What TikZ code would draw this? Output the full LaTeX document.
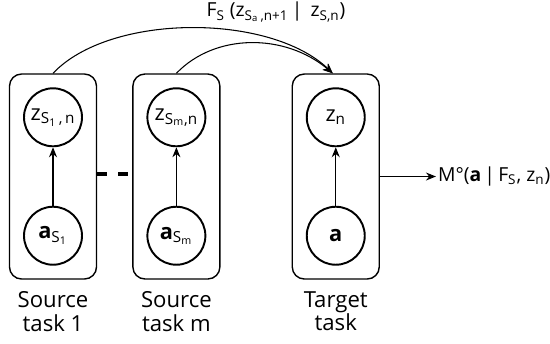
\documentclass[tikz,border=0pt]{standalone}
\usepackage{fontspec}
\setmainfont{Open Sans}
\usetikzlibrary{arrows.meta, positioning, calc}

\begin{document}
\begin{tikzpicture}[x=0.02cm, y=-0.02cm,
  kasten/.style={rectangle, draw=black, rounded corners=0.24cm, line width=0.8pt, minimum width=1.74cm, minimum height=4.1cm},
  knoten/.style={circle, draw=black, line width=1.1pt, minimum size=1.16cm, inner sep=0pt, font=\fontsize{12.4}{14}\selectfont},
  pfeil/.style={-{Stealth[length=2mm, width=1.6mm]}, line width=0.6pt},
  titel/.style={align=center, font=\fontsize{12.6}{13.2}\selectfont},
  font=\fontsize{11}{13}\selectfont]

      \useasboundingbox (0,0) rectangle (550,343);

      % Kaesten
      \node[kasten] (box1) at (53,176.5) {};
      \node[kasten, right=0.7cm of box1] (box2) {};
      \node[kasten, right=1.42cm of box2] (boxt) {};

      % Knoten oben
      \node[knoten, below=0.28cm of box1.north] (z1) {z\textsubscript{S\textsubscript{1}\,,\,n}};
      \node[knoten, below=0.28cm of box2.north] (zm) {z\textsubscript{S\textsubscript{m},n}};
      \node[knoten, below=0.28cm of boxt.north] (zt) {z\textsubscript{n}};

      % Knoten unten
      \node[knoten, above=0.28cm of box1.south] (a1) {\textbf{a}\textsubscript{S\textsubscript{1}}};
      \node[knoten, above=0.28cm of box2.south] (am) {\textbf{a}\textsubscript{S\textsubscript{m}}};
      \node[knoten, above=0.28cm of boxt.south] (at) {\textbf{a}};

      % Pfeile
      \draw[pfeil] (a1) -- (z1);
      \draw[pfeil] (am) -- (zm);
      \draw[pfeil] (at) -- (zt);

      % Beschriftung
      \node[titel, below=0.12cm of box1] (lab1) {Source\\task 1};
      \node[titel, below=0.12cm of box2] (lab2) {Source\\task m};
      \node[titel, below=0.12cm of boxt] (labt) {Target\\task};

      % Striche
      \draw[line width=2.3pt, dash pattern=on 0.2cm off 0.22cm] ([yshift=0.05cm]box1.east) -- ([yshift=0.05cm]box2.west);

      % Boegen
      \node (flabel) at (276,12) {F\textsubscript{S} (z\textsubscript{S\textsubscript{a}\,,n+1}\,|\, z\textsubscript{S,n})};
      \draw[pfeil] (box1.north) .. controls (110,13) and (270,13) .. ([xshift=-0.06cm]boxt.north);
      \draw[pfeil] (box2.north) .. controls (215,33) and (285,33) .. ([xshift=-0.06cm]boxt.north);

      % Ergebnis
      \node[right=1.12cm of boxt, inner sep=1pt] (mlabel) {M°(\textbf{a}\,|\,F\textsubscript{S}, z\textsubscript{n})};
      \draw[pfeil] (boxt.east) -- (mlabel.west);

\end{tikzpicture}
\end{document}
